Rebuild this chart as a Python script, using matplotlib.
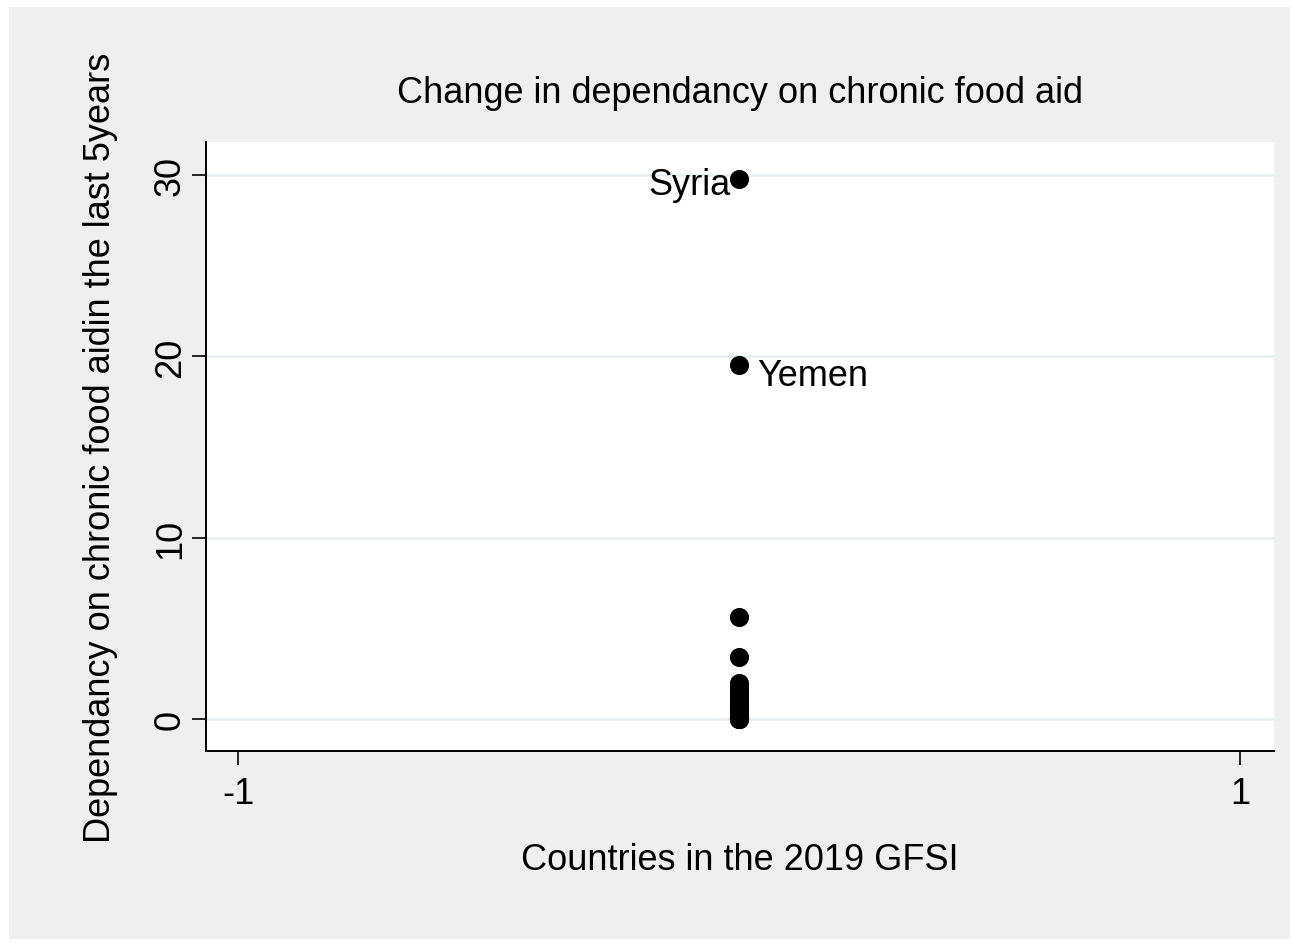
import matplotlib
matplotlib.use("Agg")
import matplotlib.pyplot as plt
from matplotlib.patches import Rectangle

plt.rcParams["font.family"] = ["Liberation Sans", "DejaVu Sans"]

# dependency on chronic food aid, one point per country (all sit at x = 0)
values = [29.8, 19.5, 5.6, 3.4, 2.0, 1.8, 1.6, 1.4, 1.2, 1.0, 0.8, 0.6,
          0.5, 0.4, 0.3, 0.2, 0.1, 0.05, 0.0, 0.0, 0.0, 0.0]
positions = [0.0] * len(values)
labels = {"Syria": 29.8, "Yemen": 19.5}
yticks = [0, 10, 20, 30]
xticks = [-1, 1]

BG = "#efefef"
GRID = "#e6eef0"
FS = 26

fig = plt.figure(figsize=(12.92, 9.45), dpi=100)
fig.patch.set_facecolor("white")
fig.patches.append(Rectangle((9 / 1292, 5 / 945), 1281 / 1292, 932 / 945,
                             transform=fig.transFigure, facecolor=BG,
                             edgecolor="none", zorder=-10))

ax = fig.add_axes([206 / 1292, 1 - 752 / 945, 1068 / 1292, 609 / 945])
ax.set_facecolor("white")
ax.scatter(positions, values, s=190, color="black", zorder=3, linewidths=0)

ax.annotate("Syria", (0, labels["Syria"]), xytext=(-6, -4), textcoords="offset points",
            ha="right", va="center", fontsize=FS)
ax.annotate("Yemen", (0, labels["Yemen"]), xytext=(13, -7), textcoords="offset points",
            ha="left", va="center", fontsize=FS)

ax.set_xlim(-1.064, 1.068)
ax.set_ylim(-1.77, 31.83)
ax.set_xticks(xticks)
ax.set_xticklabels(["-1", "1"])
ax.set_yticks(yticks)
ax.set_yticklabels([str(t) for t in yticks], rotation=90, va="center")
ax.tick_params(axis="both", length=10, width=1.2, labelsize=FS, color="black")
ax.tick_params(axis="x", pad=8)
ax.tick_params(axis="y", pad=3)
ax.grid(axis="y", color=GRID, linewidth=1.8, zorder=0)
ax.set_axisbelow(True)

for side in ("top", "right"):
    ax.spines[side].set_visible(False)
for side in ("left", "bottom"):
    ax.spines[side].set_linewidth(1.4)

ax.set_title("Change in dependancy on chronic food aid", fontsize=FS, pad=29)
ax.set_xlabel("Countries in the 2019 GFSI", fontsize=FS, labelpad=22)
ax.set_ylabel("Dependancy on chronic food aidin the last 5years", fontsize=FS, labelpad=25)

fig.savefig("out.png", dpi=100, facecolor="white")
